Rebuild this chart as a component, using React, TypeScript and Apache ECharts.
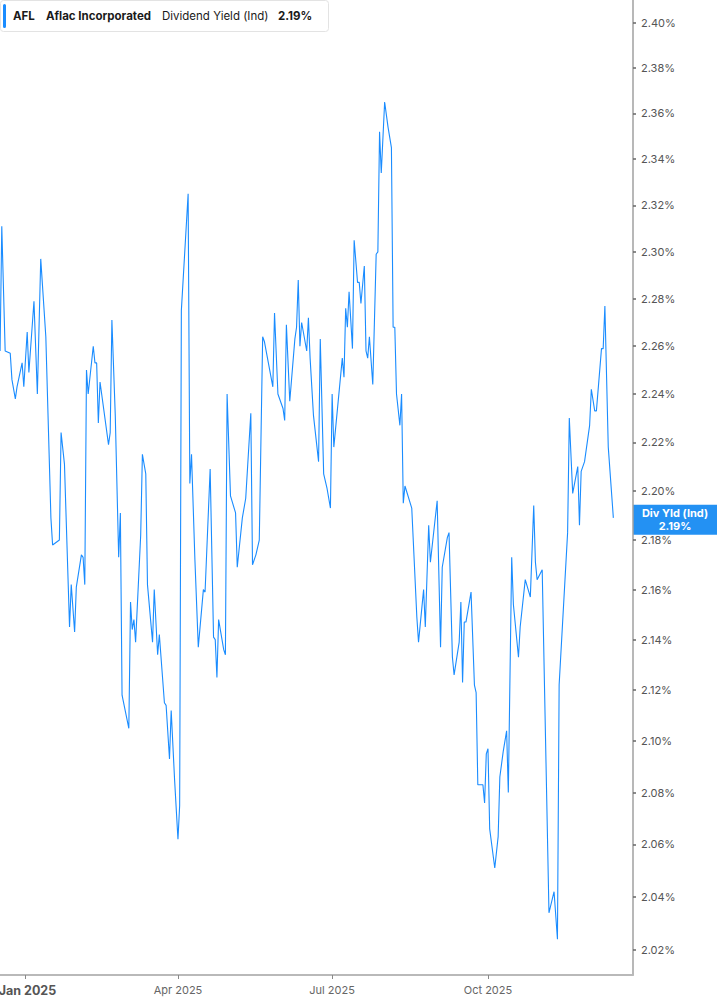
import React, { useEffect, useRef } from "react";
import * as echarts from "echarts";

// ---- Data ----
const dates: string[] = [
  "2024-12-17","2024-12-18","2024-12-20","2024-12-23","2024-12-24","2024-12-26","2024-12-27","2024-12-30","2024-12-31",
  "2025-01-02","2025-01-03","2025-01-06","2025-01-08","2025-01-10","2025-01-13","2025-01-16","2025-01-17","2025-01-21",
  "2025-01-22","2025-01-24","2025-01-27","2025-01-28","2025-01-30","2025-01-31",
  "2025-02-03","2025-02-04","2025-02-05","2025-02-06","2025-02-07","2025-02-10","2025-02-11","2025-02-12","2025-02-13",
  "2025-02-14","2025-02-19","2025-02-20","2025-02-21","2025-02-23","2025-02-25","2025-02-26","2025-02-27",
  "2025-03-03","2025-03-04","2025-03-05","2025-03-06","2025-03-07","2025-03-10","2025-03-11","2025-03-13","2025-03-14",
  "2025-03-17","2025-03-18","2025-03-20","2025-03-21","2025-03-24","2025-03-25","2025-03-27","2025-03-28","2025-03-30",
  "2025-04-01","2025-04-02","2025-04-03","2025-04-07","2025-04-08","2025-04-09","2025-04-11","2025-04-13","2025-04-16",
  "2025-04-17","2025-04-20","2025-04-22","2025-04-23","2025-04-24","2025-04-25","2025-04-28","2025-04-29","2025-04-30",
  "2025-05-02","2025-05-05","2025-05-06","2025-05-09","2025-05-11","2025-05-14","2025-05-15","2025-05-17","2025-05-19",
  "2025-05-21","2025-05-22","2025-05-27","2025-05-28","2025-05-30",
  "2025-06-02","2025-06-03","2025-06-04","2025-06-06","2025-06-09","2025-06-10","2025-06-11","2025-06-12","2025-06-13",
  "2025-06-16","2025-06-17","2025-06-18","2025-06-20","2025-06-23","2025-06-24","2025-06-26","2025-06-28","2025-06-30",
  "2025-07-01","2025-07-02","2025-07-07","2025-07-08","2025-07-09","2025-07-10","2025-07-11","2025-07-12","2025-07-13",
  "2025-07-14","2025-07-16","2025-07-17","2025-07-18","2025-07-20","2025-07-21","2025-07-22","2025-07-23","2025-07-25",
  "2025-07-27","2025-07-28","2025-07-29","2025-07-30",
  "2025-08-01","2025-08-03","2025-08-05","2025-08-06","2025-08-07","2025-08-08","2025-08-10","2025-08-11","2025-08-12",
  "2025-08-13","2025-08-17","2025-08-20","2025-08-21","2025-08-24","2025-08-25","2025-08-27","2025-08-28",
  "2025-09-01","2025-09-03","2025-09-04","2025-09-07","2025-09-08","2025-09-10","2025-09-11","2025-09-14","2025-09-15",
  "2025-09-16","2025-09-17","2025-09-18","2025-09-21","2025-09-23","2025-09-24","2025-09-25","2025-09-28","2025-09-29",
  "2025-09-30",
  "2025-10-01","2025-10-02","2025-10-05","2025-10-07","2025-10-08","2025-10-10","2025-10-12","2025-10-13","2025-10-15",
  "2025-10-16","2025-10-19","2025-10-20","2025-10-23","2025-10-26","2025-10-28","2025-10-29","2025-10-30",
  "2025-11-02","2025-11-06","2025-11-09","2025-11-11","2025-11-12","2025-11-17","2025-11-18","2025-11-20","2025-11-23",
  "2025-11-24","2025-11-25","2025-11-27","2025-11-30",
  "2025-12-01","2025-12-03","2025-12-04","2025-12-07","2025-12-08","2025-12-09","2025-12-11","2025-12-14",
];

const yields: number[] = [
  2.258,2.311,2.258,2.257,2.246,2.238,2.243,2.253,2.243,
  2.266,2.249,2.279,2.240,2.297,2.264,2.189,2.178,2.180,
  2.224,2.211,2.145,2.162,2.143,2.161,
  2.174,2.173,2.162,2.250,2.240,2.260,2.253,2.253,2.228,
  2.245,2.219,2.224,2.271,2.231,2.173,2.191,2.118,
  2.105,2.155,2.144,2.148,2.139,2.182,2.215,2.207,2.162,
  2.139,2.160,2.134,2.142,2.115,2.114,2.093,2.112,2.085,
  2.062,2.075,2.275,2.325,2.203,2.215,2.172,2.137,2.160,
  2.159,2.209,2.141,2.140,2.125,2.148,2.136,2.134,2.240,
  2.198,2.191,2.169,2.189,2.197,2.232,2.170,2.174,2.180,
  2.264,2.262,2.243,2.274,2.240,
  2.234,2.229,2.269,2.237,2.263,2.268,2.288,2.260,2.270,
  2.258,2.272,2.255,2.231,2.212,2.263,2.207,2.201,2.193,
  2.240,2.218,2.255,2.247,2.276,2.268,2.283,2.271,2.259,
  2.305,2.287,2.287,2.278,2.294,2.258,2.255,2.264,2.244,
  2.299,2.300,2.352,2.334,
  2.365,2.354,2.345,2.268,2.268,2.240,2.227,2.240,2.195,
  2.202,2.193,2.149,2.139,2.160,2.145,2.186,2.171,
  2.196,2.137,2.169,2.181,2.183,2.133,2.126,2.139,2.155,
  2.123,2.147,2.147,2.159,2.122,2.119,2.083,2.083,2.076,
  2.095,
  2.097,2.066,2.051,2.063,2.086,2.096,2.104,2.080,2.173,
  2.154,2.133,2.145,2.164,2.157,2.194,2.171,2.164,
  2.168,2.034,2.042,2.024,2.122,2.183,2.230,2.199,2.210,
  2.186,2.208,2.212,2.227,
  2.242,2.233,2.233,2.259,2.259,2.277,2.218,2.189,
];

const yTickValues: number[] = [
  2.02, 2.04, 2.06, 2.08, 2.1, 2.12, 2.14, 2.16, 2.18, 2.2,
  2.22, 2.24, 2.26, 2.28, 2.3, 2.32, 2.34, 2.36, 2.38, 2.4,
];
const xTickDates: string[] = ["2025-01-01", "2025-04-01", "2025-07-01", "2025-10-01"];
const monthNames: string[] = ["Jan","Feb","Mar","Apr","May","Jun","Jul","Aug","Sep","Oct","Nov","Dec"];

const yAxisBottom = 2.0106;
const yAxisTop = 2.4103;
const xAxisStart = "2024-12-17";
const xAxisEnd = "2025-12-25";

const ticker = "AFL";
const company = "Aflac Incorporated";
const metric = "Dividend Yield (Ind)";
const metricShort = "Div Yld (Ind)";

const BLUE = "#1a8cff";
const FONT = "Inter, 'Noto Sans', sans-serif";

const toTs = (s: string) => {
  const [y, m, d] = s.split("-").map(Number);
  return new Date(y, m - 1, d).getTime();
};
const HOUR = 3600 * 1000;

export default function App() {
  const ref = useRef<HTMLDivElement>(null);

  useEffect(() => {
    if (!ref.current) return;
    const chart = echarts.init(ref.current, undefined, { renderer: "svg" });
    const last = yields[yields.length - 1];
    const lastText = last.toFixed(2) + "%";

    chart.setOption({
      animation: false,
      grid: { left: 0, right: 84, top: 0, bottom: 30, containLabel: false, outerBoundsMode: "none" },
      xAxis: {
        type: "value",
        min: toTs(xAxisStart) - 1.2 * HOUR,
        max: toTs(xAxisEnd) + 14.4 * HOUR,
        axisLine: { show: true, lineStyle: { color: "#b9b9b9", width: 2 } },
        axisTick: {
          show: true,
          length: 4,
          lineStyle: { color: "#888", width: 1 },
          customValues: xTickDates.map(toTs),
        },
        splitLine: { show: false },
        axisLabel: {
          customValues: xTickDates.map(toTs),
          margin: 9,
          formatter: (val: number) => {
            const d = new Date(val);
            const s = monthNames[d.getMonth()] + " " + d.getFullYear();
            return d.getMonth() === 0 ? "{b|" + s + "}" : "{r|" + s + "}";
          },
          rich: {
            b: { fontFamily: FONT, fontSize: 12.5, fontWeight: "bold", color: "#555", padding: [0, 0, 0, 4] },
            r: { fontFamily: FONT, fontSize: 11, color: "#666" },
          },
        },
      },
      yAxis: {
        type: "value",
        position: "right",
        min: Math.log(yAxisBottom),
        max: Math.log(yAxisTop),
        scale: true,
        axisLine: { show: true, lineStyle: { color: "#a0a0a0", width: 1.5 } },
        axisTick: {
          show: true,
          length: 3,
          lineStyle: { color: "#666", width: 1.5 },
          customValues: yTickValues.map((v) => Math.log(v)),
        },
        splitLine: { show: false },
        axisLabel: {
          customValues: yTickValues.map((v) => Math.log(v)),
          margin: 8,
          fontFamily: FONT,
          fontSize: 11,
          color: "#555",
          formatter: (v: number) => Math.exp(v).toFixed(2) + "%",
        },
      },
      series: [
        {
          type: "line",
          data: dates.map((d, i) => [toTs(d), Math.log(yields[i])]),
          showSymbol: false,
          symbol: "none",
          lineStyle: { color: BLUE, width: 1.1 },
          clip: true,
        },
      ],
    });

    const py = chart.convertToPixel({ yAxisIndex: 0 }, Math.log(last)) as number;

    chart.setOption({
      graphic: [
        {
          type: "group",
          id: "legendBox",
          children: [
            {
              type: "rect",
              shape: { x: 0.5, y: 0.5, width: 328, height: 31, r: 3 },
              style: { fill: "#fff", stroke: "#e3e3e3", lineWidth: 1 },
            },
            {
              type: "rect",
              shape: { x: 3, y: 4, width: 3, height: 24, r: 1.5 },
              style: { fill: BLUE },
            },
            {
              type: "text",
              style: { x: 13, y: 16, text: ticker, fill: "#1a1a1a", font: "bold 11.5px " + FONT, verticalAlign: "middle" },
            },
            {
              type: "text",
              style: { x: 46, y: 16, text: company, fill: "#1a1a1a", font: "bold 11.5px " + FONT, verticalAlign: "middle" },
            },
            {
              type: "text",
              style: { x: 162, y: 16, text: metric, fill: "#1a1a1a", font: "11.5px " + FONT, verticalAlign: "middle" },
            },
            {
              type: "text",
              style: { x: 278, y: 16, text: lastText, fill: "#1a1a1a", font: "bold 11.5px " + FONT, verticalAlign: "middle" },
            },
          ],
        },
        {
          type: "group",
          id: "lastLabel",
          children: [
            {
              type: "rect",
              shape: { x: 633, y: py - 13, width: 84, height: 30 },
              style: { fill: "#2391f3" },
            },
            {
              type: "text",
              style: {
                x: 675,
                y: py + 2,
                text: metricShort + "\n" + lastText,
                fill: "#fff",
                font: "bold 11px " + FONT,
                align: "center",
                verticalAlign: "middle",
                lineHeight: 13,
              },
            },
          ],
        },
      ],
    });

    return () => chart.dispose();
  }, []);

  return (
    <div
      ref={ref}
      style={{ position: "fixed", left: 0, top: 0, width: 717, height: 1005, background: "#fff" }}
    />
  );
}
